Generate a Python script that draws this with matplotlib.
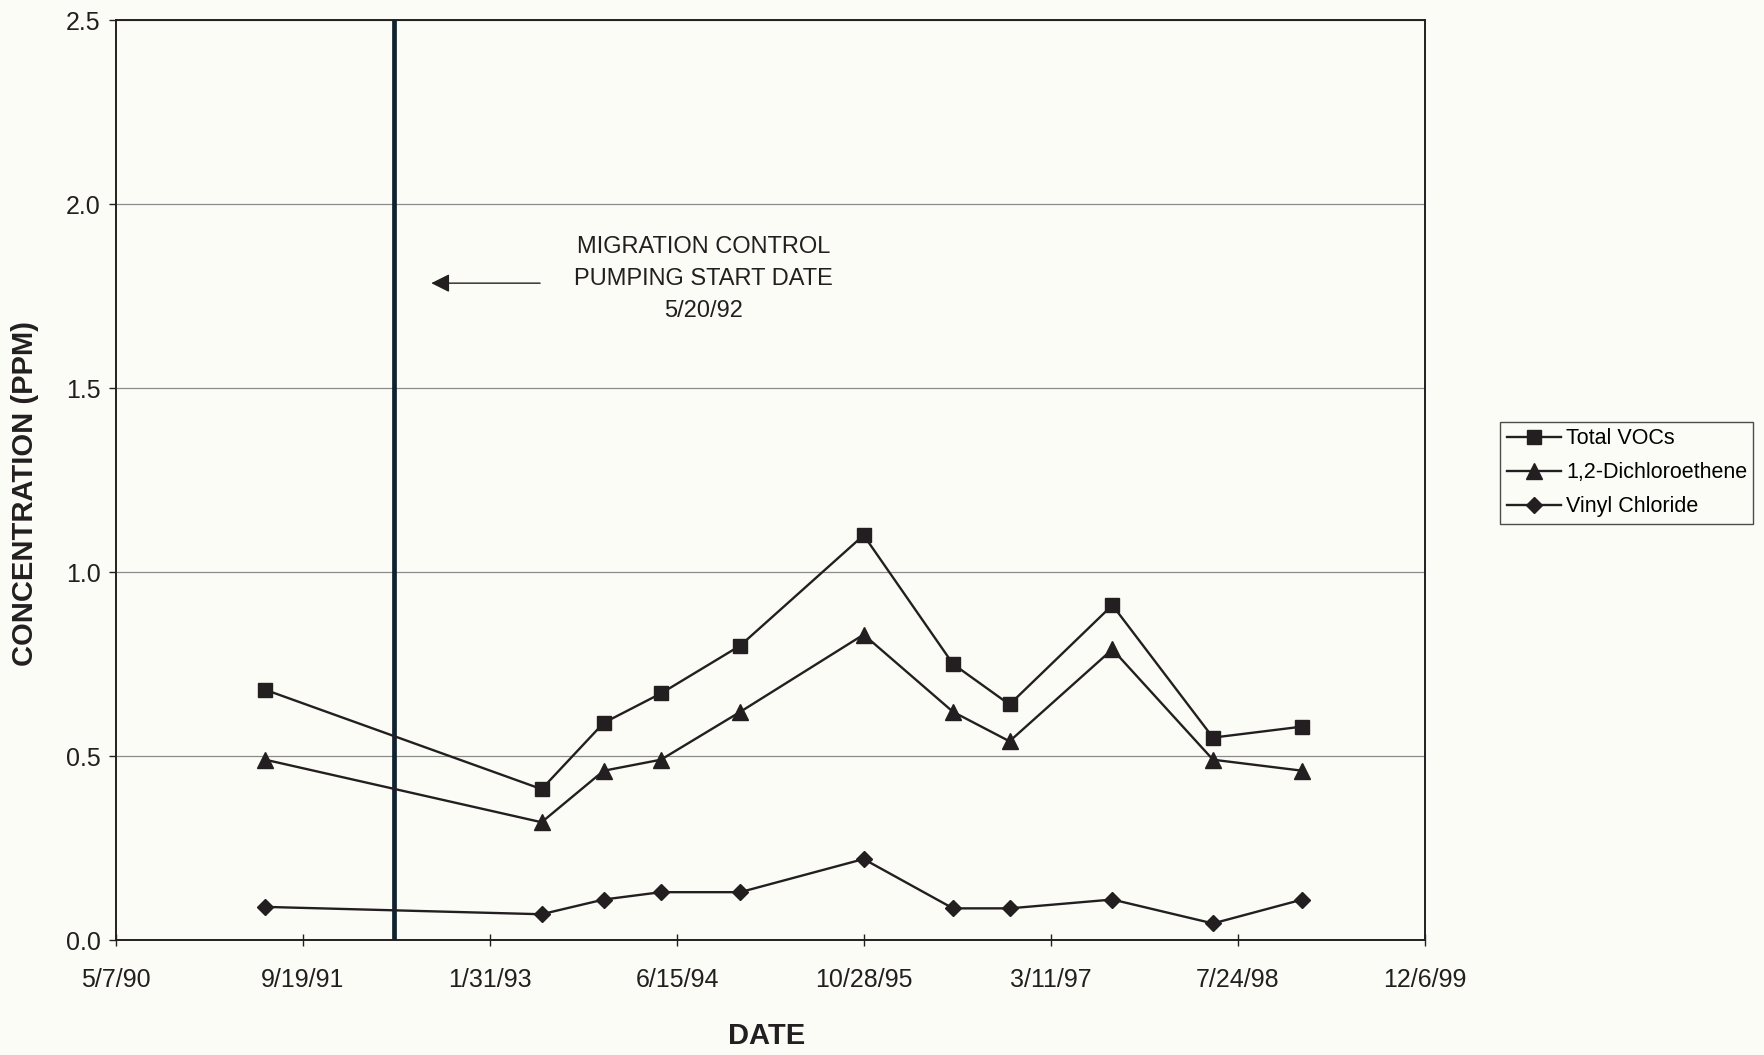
import matplotlib
matplotlib.use("Agg")
import matplotlib.pyplot as plt
import pandas as pd

plt.rcParams['font.family'] = ['Liberation Sans', 'DejaVu Sans']

# Sampling dates and concentrations (ppm)
dates = ["1991-06-10", "1993-06-18", "1993-12-01", "1994-05-03", "1994-12-01",
         "1995-10-27", "1996-06-22", "1996-11-20", "1997-08-22", "1998-05-18",
         "1999-01-12"]
total_vocs = [0.68, 0.41, 0.59, 0.67, 0.80, 1.10, 0.75, 0.64, 0.91, 0.55, 0.58]
dichloroethene = [0.49, 0.32, 0.46, 0.49, 0.62, 0.83, 0.62, 0.54, 0.79, 0.49, 0.46]
vinyl_chloride = [0.09, 0.07, 0.11, 0.13, 0.13, 0.22, 0.086, 0.086, 0.11, 0.045, 0.11]

pumping_start = "1992-05-20"
x_start = "1990-05-07"
x_end = "1999-12-06"
tick_step_days = 500
y_ticks = [0.0, 0.5, 1.0, 1.5, 2.0, 2.5]

bg = '#fcfcf7'
ink = '#231f20'

t = pd.to_datetime(dates)
fig = plt.figure(figsize=(17.65, 10.55), dpi=100, facecolor=bg)
ax = fig.add_axes([0.0657, 0.109, 0.7417, 0.872], facecolor=bg)

ax.plot(t, total_vocs, color=ink, lw=1.7, marker='s', ms=10.5, mfc=ink, mec=ink,
        label='Total VOCs', zorder=4)
ax.plot(t, dichloroethene, color=ink, lw=1.7, marker='^', ms=11.5, mfc=ink, mec=ink,
        label='1,2-Dichloroethene', zorder=4)
ax.plot(t, vinyl_chloride, color=ink, lw=1.7, marker='D', ms=8.5, mfc=ink, mec=ink,
        label='Vinyl Chloride', zorder=4)

ps = pd.Timestamp(pumping_start)
ax.axvline(ps, color='#0f2230', lw=3.4, zorder=3)

# Arrow pointing to the pumping start line, with its caption
ax.annotate('', xy=(pd.Timestamp("1992-08-27"), 1.785),
            xytext=(pd.Timestamp("1993-06-14"), 1.785),
            arrowprops=dict(arrowstyle='-|>', color=ink, lw=1.0,
                            mutation_scale=28, shrinkA=0, shrinkB=0))
ax.text(pd.Timestamp("1994-08-25"), 1.796,
        'MIGRATION CONTROL\nPUMPING START DATE\n5/20/92',
        ha='center', va='center', fontsize=17, color=ink, linespacing=1.6)

x0, x1 = pd.Timestamp(x_start), pd.Timestamp(x_end)
ax.set_xlim(x0, x1)
ticks = pd.date_range(x0, x1, freq=f'{tick_step_days}D')
ax.set_xticks(ticks)
ax.set_xticklabels([f"{d.month}/{d.day}/{d.year % 100}" for d in ticks])
ax.set_ylim(0, 2.5)
ax.set_yticks(y_ticks)
ax.set_yticklabels([f"{v:.1f}" for v in y_ticks])

ax.grid(axis='y', color='#8a8a8a', lw=0.9)
ax.set_axisbelow(True)
for s in ax.spines.values():
    s.set_color(ink)
    s.set_linewidth(1.4)
ax.tick_params(axis='x', direction='inout', length=8, width=1, colors=ink,
               labelsize=18, pad=16)
ax.tick_params(axis='y', direction='out', length=5, width=1, colors=ink,
               labelsize=18, pad=6)

fig.text(0.014, 0.532, 'CONCENTRATION (PPM)', rotation=90, ha='center', va='center',
         fontsize=21, fontweight='bold', color=ink)
fig.text(0.4345, 0.018, 'DATE', ha='center', va='center',
         fontsize=21, fontweight='bold', color=ink)

leg = fig.legend(loc='upper left', bbox_to_anchor=(0.850, 0.600),
                 fontsize=15.5, frameon=True, fancybox=False, handlelength=2.5,
                 handletextpad=0.25, borderpad=0.3, borderaxespad=0,
                 labelspacing=0.6)
leg.get_frame().set_edgecolor(ink)
leg.get_frame().set_linewidth(1.0)
leg.get_frame().set_facecolor(bg)

fig.savefig('out.png', dpi=100, facecolor=bg)
